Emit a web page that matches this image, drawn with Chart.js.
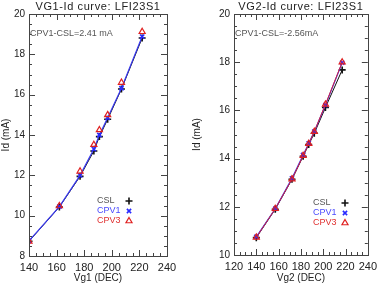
<!DOCTYPE html>
<html lang="en">
<head>
<meta charset="UTF-8">
<title>VG-Id curves LFI23S1</title>
<script src="https://cdn.jsdelivr.net/npm/chart.js"></script>
<style>
    body { margin: 0; background: #fff; }
    .wrap { position: relative; width: 382px; height: 284px; }
    .panel { position: absolute; top: 0; width: 191px; height: 284px; }
    #left { left: 0; }
    #right { left: 191px; }
</style>
</head>
<body>
<div class="wrap">
    <div class="panel" id="left"><canvas id="vg1Chart" width="191" height="284"></canvas></div>
    <div class="panel" id="right"><canvas id="vg2Chart" width="191" height="284"></canvas></div>
</div>
<script>
// VG1 sweep (left panel)
const vg1 = [140, 162, 177, 187, 191, 197, 207, 222];
const vg1Csl = [8.73, 10.43, 11.95, 13.21, 13.92, 14.78, 16.28, 18.81];
const vg1Cpv1 = [8.75, 10.45, 12.0, 13.3, 14.0, 14.85, 16.32, 18.88];
const vg1Cpv3 = [8.72, 10.48, 12.2, 13.52, 14.25, 15.0, 16.6, 19.12];

// VG2 sweep (right panel)
const vg2 = [140, 157, 172, 182, 187, 192, 202, 217];
const vg2Csl = [10.72, 11.9, 13.14, 14.1, 14.58, 15.05, 16.12, 17.68];
const vg2Cpv1 = [10.75, 11.92, 13.18, 14.15, 14.63, 15.12, 16.22, 17.98];
const vg2Cpv3 = [10.73, 11.92, 13.15, 14.12, 14.62, 15.12, 16.25, 18.0];

const seriesNames = ['CSL', 'CPV1', 'CPV3'];
const legendColors = ['#555', '#4a4aff', '#e03030'];
const FONT = 'Liberation Sans, Arial, sans-serif';

function pts(xs, ys) {
    return xs.map((x, i) => ({ x: x, y: ys[i] }));
}

function legendMarker(ctx, ds, x, y) {
    ctx.save();
    ctx.strokeStyle = ds.pointBorderColor;
    ctx.fillStyle = 'rgba(0,0,0,0)';
    ctx.lineWidth = ds.pointBorderWidth;
    Chart.helpers.drawPoint(ctx, { pointStyle: ds.pointStyle, radius: ds.pointRadius, rotation: 0, borderWidth: ds.pointBorderWidth }, x, y);
    ctx.restore();
}

// frame + inward ticks on all four sides, title, note and legend (IDL look)
const idlFrame = {
    id: 'idlFrame',
    afterDraw(chart, args, opts) {
        const ctx = chart.ctx;
        const a = chart.chartArea;
        const xs = chart.scales.x, ys = chart.scales.y;
        ctx.save();
        ctx.strokeStyle = '#444';
        ctx.lineWidth = 1;
        ctx.strokeRect(Math.round(a.left) + 0.5, Math.round(a.top) + 0.5,
            Math.round(a.right - a.left), Math.round(a.bottom - a.top));
        ctx.beginPath();
        for (let v = xs.min; v <= xs.max + 1e-6; v += opts.xMinor) {
            const major = Math.abs(v / opts.xMajor - Math.round(v / opts.xMajor)) < 1e-6;
            const len = major ? 6 : 3;
            const px = Math.round(xs.getPixelForValue(v)) + 0.5;
            ctx.moveTo(px, a.bottom); ctx.lineTo(px, a.bottom - len);
            ctx.moveTo(px, a.top); ctx.lineTo(px, a.top + len);
        }
        for (let v = ys.min; v <= ys.max + 1e-6; v += opts.yMinor) {
            const major = Math.abs(v / opts.yMajor - Math.round(v / opts.yMajor)) < 1e-6;
            const len = major ? 6 : 3;
            const py = Math.round(ys.getPixelForValue(v)) + 0.5;
            ctx.moveTo(a.left, py); ctx.lineTo(a.left + len, py);
            ctx.moveTo(a.right, py); ctx.lineTo(a.right - len, py);
        }
        ctx.stroke();

        // title over the plot
        ctx.fillStyle = '#222';
        ctx.font = '11px ' + FONT;
        ctx.letterSpacing = '0.6px';
        ctx.textAlign = 'center';
        ctx.textBaseline = 'alphabetic';
        ctx.fillText(opts.title, (a.left + a.right) / 2, 10);
        ctx.letterSpacing = '0px';

        // note in upper left corner
        ctx.font = '9px ' + FONT;
        ctx.fillStyle = '#555';
        ctx.textBaseline = 'middle';
        ctx.textAlign = 'left';
        ctx.fillText(opts.note, a.left + 1, a.top + 20);

        chart.data.datasets.forEach((ds, i) => {
            const y = opts.legendY + i * 10;
            ctx.fillStyle = legendColors[i];
            ctx.fillText(seriesNames[i], opts.legendX, y);
            legendMarker(ctx, ds, opts.legendX + 32, y);
        });
        ctx.restore();
    }
};

function makeChart(id, cfg) {
    const datasets = [
        {
            label: 'CSL', data: pts(cfg.x, cfg.csl),
            borderColor: '#111', borderWidth: 1,
            pointStyle: 'cross', pointRadius: 3.5, pointBorderWidth: 1.6,
            pointBorderColor: '#111', pointBackgroundColor: '#111', order: 3
        },
        {
            label: 'CPV1', data: pts(cfg.x, cfg.cpv1),
            borderColor: '#3a3af0', borderWidth: 1.2,
            pointStyle: 'crossRot', pointRadius: 3, pointBorderWidth: 1.6,
            pointBorderColor: '#2a2aff', pointBackgroundColor: '#2a2aff', order: 2
        },
        {
            label: 'CPV3', data: pts(cfg.x, cfg.cpv3),
            borderColor: '#d02040', borderWidth: 1,
            showLine: cfg.redLine,
            pointStyle: 'triangle', pointRadius: 3.5, pointBorderWidth: 1.2,
            pointBorderColor: '#e02020', pointBackgroundColor: 'rgba(255,255,255,0)', order: 1
        }
    ];
    return new Chart(document.getElementById(id), {
        type: 'line',
        data: { datasets: datasets },
        options: {
            responsive: false,
            animation: false,
            layout: { padding: { left: 0, right: cfg.padRight, top: 14, bottom: 0 } },
            plugins: {
                legend: { display: false },
                tooltip: { enabled: false },
                idlFrame: {
                    xMajor: 20, xMinor: 5, yMajor: 2, yMinor: 0.5,
                    title: cfg.title, note: cfg.note,
                    legendX: cfg.legendX, legendY: cfg.legendY
                }
            },
            scales: {
                x: {
                    type: 'linear', min: cfg.xMin, max: 240,
                    grid: { display: false, drawTicks: false }, border: { display: false },
                    ticks: { stepSize: 20, color: '#222', padding: 5, maxRotation: 0,
                        font: { family: FONT, size: 11 } },
                    title: { display: true, text: cfg.xTitle, color: '#222', padding: 0,
                        font: { family: FONT, size: 10 } },
                    afterFit(s) { s.height = cfg.xHeight; }
                },
                y: {
                    type: 'linear', min: cfg.yMin, max: 20,
                    grid: { display: false, drawTicks: false }, border: { display: false },
                    ticks: { stepSize: 2, color: '#222', padding: 4,
                        font: { family: FONT, size: 10 } },
                    title: { display: true, text: 'Id (mA)', color: '#222', padding: 0,
                        font: { family: FONT, size: 10 } },
                    afterFit(s) { s.width = cfg.yWidth; }
                }
            }
        },
        plugins: [idlFrame]
    });
}

makeChart('vg1Chart', {
    x: vg1, csl: vg1Csl, cpv1: vg1Cpv1, cpv3: vg1Cpv3, redLine: false,
    title: 'VG1-Id curve: LFI23S1', note: 'CPV1-CSL=2.41 mA', xTitle: 'Vg1 (DEC)',
    xMin: 140, yMin: 8, padRight: 24, yWidth: 29, xHeight: 28,
    legendX: 97, legendY: 201
});

makeChart('vg2Chart', {
    x: vg2, csl: vg2Csl, cpv1: vg2Cpv1, cpv3: vg2Cpv3, redLine: true,
    title: 'VG2-Id curve: LFI23S1', note: 'CPV1-CSL=-2.56mA', xTitle: 'Vg2 (DEC)',
    xMin: 120, yMin: 10, padRight: 8, yWidth: 43, xHeight: 29,
    legendX: 122, legendY: 203
});
</script>
</body>
</html>
